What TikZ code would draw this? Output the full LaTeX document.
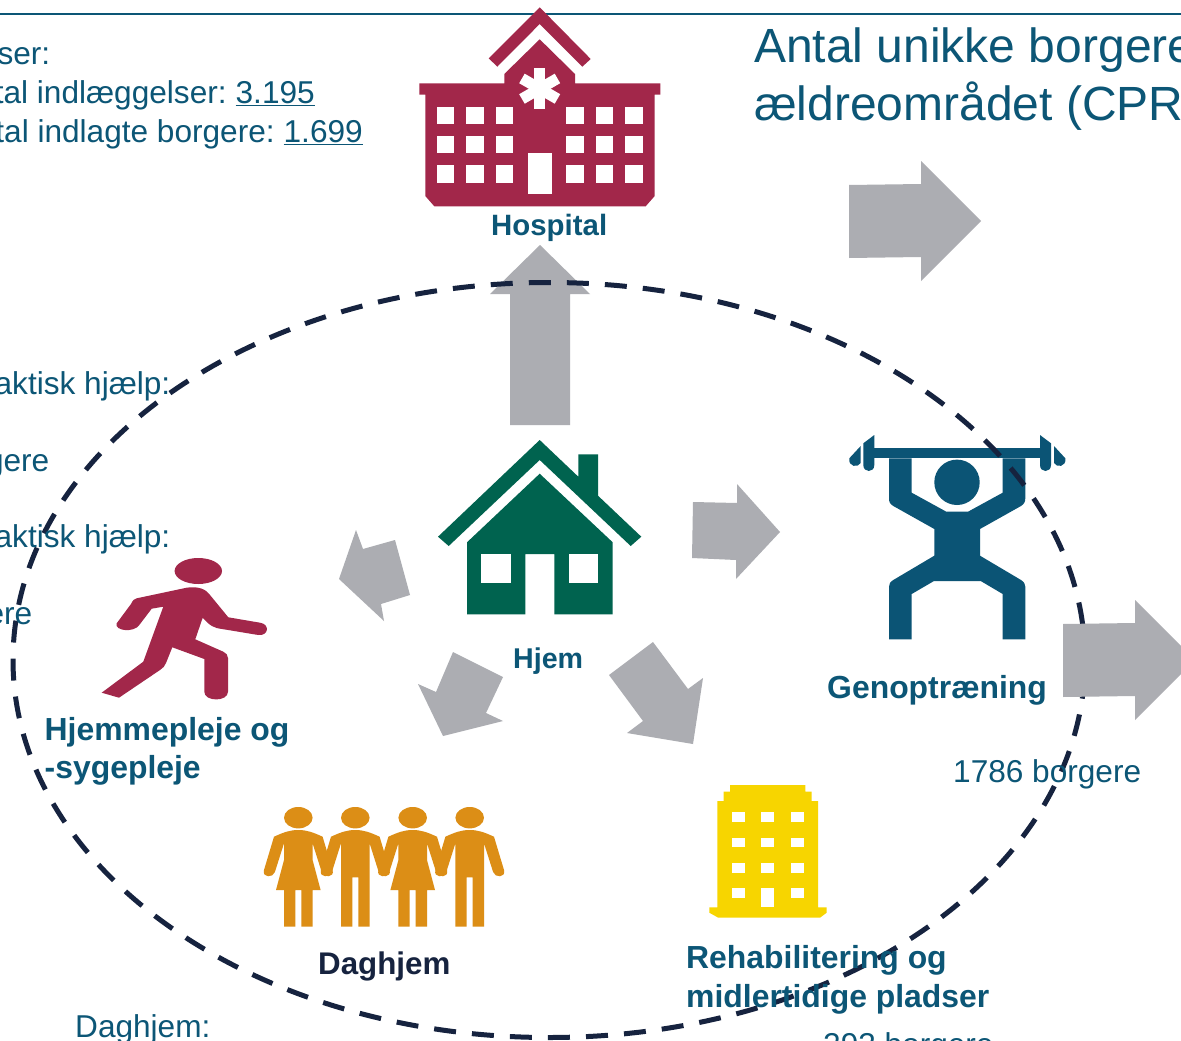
\documentclass[tikz,border=0pt]{standalone}
\usepackage{fontspec}
\setmainfont{Liberation Sans}
\definecolor{teal1}{HTML}{0C5676}
\definecolor{hospred}{HTML}{A2274A}
\definecolor{homegreen}{HTML}{00634F}
\definecolor{liftblue}{HTML}{0B5475}
\definecolor{ppl}{HTML}{DC8E16}
\definecolor{bldg}{HTML}{F7D500}
\definecolor{arrowgrey}{HTML}{ACADB2}
\definecolor{navy}{HTML}{16233F}
\tikzset{
  body/.style={inner sep=0pt,text=teal1,font=\fontsize{31.6}{38}\selectfont},
  bold/.style={inner sep=0pt,text=teal1,align=left,font=\fontsize{31.9}{39}\selectfont\bfseries},
  big/.style={inner sep=0pt,text=teal1,font=\fontsize{48}{57}\selectfont},
  blockarrow/.style={fill=arrowgrey},
  hole/.style={fill=white}
}
\newcommand{\womanfig}[1]{%
 \begin{scope}[shift={(#1,0)}]
 \fill[ppl] (0,817.7) ellipse [x radius=14.3,y radius=10.7];
 \fill[ppl] (-24.3,836.7) .. controls (-14,832) and (-8,830) .. (0,830) .. controls (8,830) and (14,832) .. (24.3,836.7)
  -- (34.3,870) .. controls (36.5,878) and (25,878) .. (23.4,872) -- (14.3,843.3) -- (14.3,860) -- (22.3,890) -- (14.3,890) -- (14.3,926.7) -- (3,926.7) -- (3,890) -- (-3,890) -- (-3,926.7) -- (-14.3,926.7) -- (-14.3,890) -- (-22.3,890) -- (-14.3,860) -- (-14.3,843.3) -- (-23.4,872) .. controls (-25,878) and (-36.5,878) .. (-34.3,870) -- cycle;
 \end{scope}}
\newcommand{\manfig}[1]{%
 \begin{scope}[shift={(#1,0)}]
 \fill[ppl] (0,817.7) ellipse [x radius=14.3,y radius=10.7];
 \fill[ppl] (-24.3,836.7) .. controls (-14,832) and (-8,830) .. (0,830) .. controls (8,830) and (14,832) .. (24.3,836.7)
  -- (34.3,870) .. controls (36.5,878) and (25,878) .. (23.4,872) -- (14.3,843.3) -- (14.3,926.7) -- (3,926.7) -- (3,877.3) -- (-3,877.3) -- (-3,926.7) -- (-14.3,926.7) -- (-14.3,843.3) -- (-23.4,872) .. controls (-25,878) and (-36.5,878) .. (-34.3,870) -- cycle;
 \end{scope}}
\begin{document}
\begin{tikzpicture}[x=1pt,y=-1pt]
\useasboundingbox (0,0) rectangle (1181,1041);
\clip (0,0) rectangle (1181,1041);
\fill[white] (0,0) rectangle (1181,1041);
% top rule
\coordinate (ruleL) at (0,14.5);
\coordinate (ruleR) at (1181,14.5);
\draw[teal1,line width=2pt] (ruleL) -- (ruleR);
% block arrows under the ellipse
\fill[blockarrow] (540,245) -- (590,294) -- (570,294) -- (570,425) -- (510,425) -- (510,294) -- (490,294) -- cycle;
\fill[blockarrow] (849,185) -- (921,184) -- (921,161) -- (981,221) -- (921,281) -- (921,257) -- (849,258) -- cycle;
\fill[blockarrow] (693,502) -- (737,503) -- (737,484) -- (780,532) -- (736,579) -- (736,560) -- (692,558) -- cycle;
\fill[blockarrow] (356,530) -- (339,579) -- (384,621) -- (381,604) -- (410,595) -- (395,540) -- (363,549) -- cycle;
\fill[blockarrow] (443,736) -- (418,684) -- (436,692) -- (453,652) -- (503,677) -- (486,713) -- (503,721) -- cycle;
\fill[blockarrow] (653,642) -- (688,689) -- (703,678) -- (693,744) -- (627,733) -- (643,721) -- (609,675) -- cycle;
% hospital
\fill[hospred] (539.7,7.3) -- (590.7,59) -- (582.3,66.7) -- (539.7,24) -- (497.3,66.7) -- (488.7,58.3) -- cycle;
\fill[hospred] (539.7,39.3) -- (575,74) -- (575,83.3) -- (660.3,83.3) -- (660.3,94.7) -- (654.7,94.7) -- (654.7,196) -- (645.7,206.3) -- (434.3,206.3) -- (425.3,196) -- (425.3,94.7) -- (419.3,94.7) -- (419.3,83.3) -- (504.3,83.3) -- (504.3,74) -- cycle;
\foreach \xa/\xb in {436.7/454.3,466/483.7,495.7/513.3,566.3/584,595.7/613.3,625/642.7}
  \foreach \ya/\yb in {106.7/124,136/153.3,165.3/182.7}
    \fill[hole] (\xa,\ya) rectangle (\xb,\yb);
\fill[hole] (528.3,153.3) rectangle (551.7,194.3);
\foreach \a in {0,60,120}
  \fill[hole,rotate around={\a:(539.7,88.7)}] (534.2,68.2) rectangle (545.2,109.2);
% home
\fill[homegreen] (539.7,440) -- (578.3,476.7) -- (578.3,454.3) -- (598,454.3) -- (598,495.7) -- (641.3,536.7) -- (630.7,546) -- (539.7,460) -- (448.7,546) -- (438,536.7) -- cycle;
\fill[homegreen] (539.7,473.7) -- (612.7,542.3) -- (612.7,614.3) -- (554.3,614.3) -- (554.3,554) -- (525.3,554) -- (525.3,614.3) -- (467,614.3) -- (467,542.3) -- cycle;
\fill[hole] (481.3,554) rectangle (510.7,583);
\fill[hole] (569,554) rectangle (598,583);
% weightlifter
\fill[liftblue] (874.3,448.3) rectangle (1040,458.3);
\fill[liftblue] (874.3,435) -- (863.3,443.3) -- (863.3,465) .. controls (863.3,473) and (874.3,473) .. (874.3,465) -- cycle;
\fill[liftblue] (1040,435) -- (1051,443.3) -- (1051,465) .. controls (1051,473) and (1040,473) .. (1040,465) -- cycle;
\fill[liftblue] (860.7,446) -- (849.3,458.3) .. controls (848,467) and (858,468) .. (860.7,463) -- cycle;
\fill[liftblue] (1054,446) -- (1065.3,458.3) .. controls (1066.6,467) and (1056.6,468) .. (1054,463) -- cycle;
\fill[liftblue] (957,482.3) circle [radius=22.7];
\fill[liftblue] (889,458.3) -- (889,498.3) .. controls (889,502) and (890,504) .. (893.3,506) -- (934.3,529) -- (934.3,555.7) -- (893.3,580) .. controls (890,582) and (889,584) .. (889,586.7) -- (889,639.3) -- (911.7,639.3) -- (911.7,594) -- (934,581) -- (980.7,581) -- (1002.7,594) -- (1002.7,639.3) -- (1025.3,639.3) -- (1025.3,586.7) .. controls (1025.3,584) and (1024,582) .. (1021,580) -- (980,555.7) -- (980,529) -- (1021,506) .. controls (1024,504) and (1025.3,502) .. (1025.3,498.3) -- (1025.3,458.3) -- (1002.7,458.3) -- (1002.7,492.7) -- (968,511.7) -- (946.3,511.7) -- (911.7,492.7) -- (911.7,458.3) -- cycle;
% runner
\fill[hospred] (198.3,571) ellipse [x radius=23.7,y radius=13];
\fill[hospred] (136.7,598.3) -- (186.7,587.7) .. controls (198,586) and (206,589) .. (210,595) -- (228.3,617.3) -- (260,622.7) .. controls (270,624) and (269,636) .. (258.3,635) -- (222,629) .. controls (214,628) and (210,626) .. (202.7,617.7) -- (195.3,639.3) -- (223.3,651.7) .. controls (226,653) and (228,655) .. (228,658) -- (228,691.7) .. controls (228,702) and (204.3,702) .. (204.3,691.7) -- (204.3,659) -- (172.3,647.3) -- (166,663) .. controls (165,666) and (163,668) .. (160,670) -- (119,697.7) -- (101.7,692.7) -- (143.3,661.7) -- (163.3,606.7) -- (151.7,608.7) -- (139.3,625) .. controls (134,633) and (114,631) .. (116.7,623.3) -- (131,604) .. controls (133,600) and (134,599) .. (136.7,598.3) -- cycle;
% people
\womanfig{298.3}
\manfig{355.3}
\womanfig{412.7}
\manfig{469.7}
% building
\fill[bldg] (730,785) -- (805.3,785) -- (805.3,791.7) -- (811.7,791.7) -- (811.7,801) -- (818,801) -- (818,907.3) -- (826.7,907.3) -- (826.7,912.7) -- (820,917.7) -- (718.3,917.7) -- (709.3,912.7) -- (709.3,907.3) -- (717.3,907.3) -- (717.3,801) -- (723.7,801) -- (723.7,791.7) -- (730,791.7) -- cycle;
\foreach \xa/\xb in {732/744.7,761.3/774,791/803.7}
  \foreach \ya/\yb in {812.3/821.7,837.7/847.3,863/872.7,888.3/898}
    \fill[hole] (\xa,\ya) rectangle (\xb,\yb);
\fill[hole] (761.3,888.3) rectangle (774,907.3);
% dashed ellipse
\draw[navy,line width=5pt,dash pattern=on 22pt off 16.07pt,dash phase=21.3pt] (549,660) ellipse [x radius=536,y radius=377.5];
% arrow over the ellipse
\fill[blockarrow] (1063,624) -- (1135,623) -- (1135,600) -- (1195,660) -- (1135,720) -- (1135,696) -- (1063,697) -- cycle;
% texts
\node[big,anchor=base west] (title1) at (754,63) {Antal unikke borgere i};
\node[big,anchor=base west] (title2) at (754,120) {ældreområdet (CPR)};
\node[body,anchor=base east] (t1) at (50.5,65) {Indlæggelser:};
\node[body,anchor=base east] (t2) at (315,103) {Total indlæggelser:\hspace{9pt}\underline{3.195}};
\node[body,anchor=base east] (t3) at (363,142) {Total indlagte borgere:\hspace{9pt}\underline{1.699}};
\node[body,anchor=base east] (t4) at (170.5,394) {Praktisk hjælp:};
\node[body,anchor=base east] (t5) at (49.5,471) {borgere};
\node[body,anchor=base east] (t6) at (170.5,547) {Praktisk hjælp:};
\node[body,anchor=base east] (t7) at (32.5,624) {borgere};
\node[body,anchor=base west] (t8) at (953,782) {1786 borgere};
\node[body,anchor=base west] (t9) at (823,1055) {293 borgere};
\node[body,anchor=base west] (t10) at (75,1037) {Daghjem:};
\node[bold,anchor=base west,font=\fontsize{29.4}{36}\selectfont\bfseries] (hosp) at (491,235) {Hospital};
\node[bold,anchor=base west,font=\fontsize{28.6}{36}\selectfont\bfseries] (hjem) at (513,668) {Hjem};
\node[bold,anchor=base west] (geno) at (827,698) {Genoptræning};
\node[bold,anchor=base west] (hjp1) at (44.5,740) {Hjemmepleje og};
\node[bold,anchor=base west] (hjp2) at (44.5,778) {-sygepleje};
\node[bold,anchor=base west,text=navy,font=\fontsize{31.3}{39}\selectfont\bfseries] (dag) at (318,974) {Daghjem};
\node[bold,anchor=base west] (reh1) at (686,968) {Rehabilitering og};
\node[bold,anchor=base west] (reh2) at (686,1007) {midlertidige pladser};
\end{tikzpicture}
\end{document}
